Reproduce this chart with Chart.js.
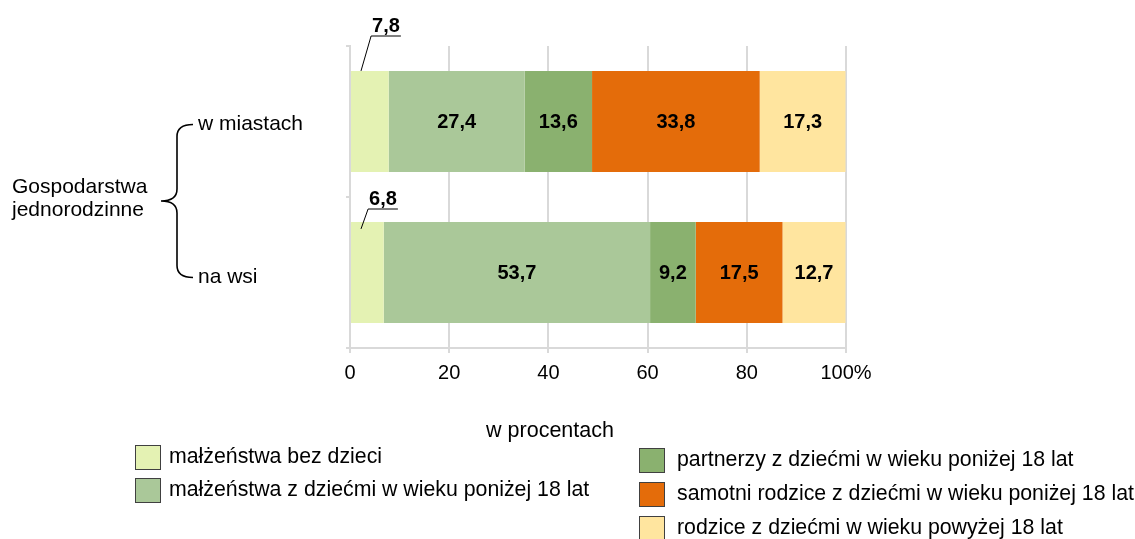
<!DOCTYPE html>
<html>
<head>
<meta charset="utf-8">
<script src="https://cdn.jsdelivr.net/npm/chart.js@4.4.1/dist/chart.umd.min.js"></script>
<style>
  html, body { margin: 0; padding: 0; background: #fff; }
  canvas { display: block; }
</style>
</head>
<body>
<canvas id="households" width="1135" height="539"></canvas>
<script>
const FONT = "'Liberation Sans', Arial, sans-serif";

const categories = ["w miastach", "na wsi"];
const group_label = ["Gospodarstwa", "jednorodzinne"];
const axis_title = "w procentach";

const series_names = [
  "małżeństwa bez dzieci",
  "małżeństwa z dziećmi w wieku poniżej 18 lat",
  "partnerzy z dziećmi w wieku poniżej 18 lat",
  "samotni rodzice z dziećmi w wieku poniżej 18 lat",
  "rodzice z dziećmi w wieku powyżej 18 lat"
];
const no_children = [7.8, 6.8];
const married_kids = [27.4, 53.7];
const partners_kids = [13.6, 9.2];
const single_parents = [33.8, 17.5];
const adult_kids = [17.3, 12.7];

const x_ticks = [0, 20, 40, 60, 80, 100];

const colours = ["#e4f2b3", "#aac899", "#8ab16f", "#e46c0a", "#ffe59f"];
const grid_colour = "#d9d9d9";

const fmt = v => v.toFixed(1).replace(".", ",");

// the narrow first series is labelled above the bar with a leader line
const CALLOUT_SERIES = 0;
const callouts = [
  { tx: 386, ty: 26, lineX: 361, lineDy: 0 },
  { tx: 383, ty: 199, lineX: 361, lineDy: 7 }
];

const barLabels = {
  id: "barLabels",
  afterDatasetsDraw(chart) {
    const ctx = chart.ctx;
    ctx.save();
    ctx.font = "bold 20px " + FONT;
    ctx.fillStyle = "#000";
    ctx.textAlign = "center";
    ctx.textBaseline = "middle";
    chart.data.datasets.forEach((ds, i) => {
      chart.getDatasetMeta(i).data.forEach((bar, j) => {
        const v = ds.data[j];
        const cx = (bar.x + bar.base) / 2;
        if (i !== CALLOUT_SERIES) {
          ctx.fillText(fmt(v), cx, bar.y + 1);
          return;
        }
        const c = callouts[j];
        const txt = fmt(v);
        const w = ctx.measureText(txt).width;
        ctx.fillText(txt, c.tx, c.ty);
        const top = bar.y - bar.height / 2;
        const uy = c.ty + 10;
        ctx.strokeStyle = "#000";
        ctx.lineWidth = 1;
        ctx.beginPath();
        ctx.moveTo(c.tx + w / 2 + 1, uy);
        ctx.lineTo(c.tx - w / 2 - 1, uy);
        ctx.lineTo(c.lineX, top + c.lineDy);
        ctx.stroke();
      });
    });
    ctx.restore();
  }
};

const sideLabels = {
  id: "sideLabels",
  afterDraw(chart) {
    const ctx = chart.ctx;
    const y = chart.scales.y;
    const y0 = y.getPixelForValue(0) + 3;
    const y1 = y.getPixelForValue(1) + 5;
    const mid = (y0 + y1) / 2;
    ctx.save();
    ctx.fillStyle = "#000";
    ctx.font = "21px " + FONT;
    ctx.textBaseline = "middle";
    ctx.textAlign = "left";
    ctx.fillText(categories[0], 198, y0);
    ctx.fillText(categories[1], 198, y1);
    ctx.fillText(group_label[0], 12, mid - 14);
    ctx.fillText(group_label[1], 12, mid + 9);

    // curly brace joining the two rows
    const bx = 177, tip = 161, r = 12;
    ctx.strokeStyle = "#000";
    ctx.lineWidth = 1.6;
    ctx.beginPath();
    ctx.moveTo(bx + 16, y0);
    ctx.quadraticCurveTo(bx, y0, bx, y0 + r);
    ctx.lineTo(bx, mid - r);
    ctx.quadraticCurveTo(bx, mid, tip, mid);
    ctx.quadraticCurveTo(bx, mid, bx, mid + r);
    ctx.lineTo(bx, y1 - r);
    ctx.quadraticCurveTo(bx, y1, bx + 16, y1);
    ctx.stroke();

    ctx.font = "21.5px " + FONT;
    ctx.textAlign = "center";
    ctx.fillText(axis_title, 550, 431);

    // legend in two columns
    const cols = [
      { x: 135, y: 445, gap: 33, items: [0, 1], tx: 169 },
      { x: 639, y: 448, gap: 34, items: [2, 3, 4], tx: 677 }
    ];
    ctx.font = "21.3px " + FONT;
    ctx.textAlign = "left";
    cols.forEach(col => {
      col.items.forEach((k, n) => {
        const sy = col.y + n * col.gap;
        ctx.fillStyle = colours[k];
        ctx.fillRect(col.x, sy, 25, 24);
        ctx.strokeStyle = "#404040";
        ctx.lineWidth = 1;
        ctx.strokeRect(col.x + 0.5, sy + 0.5, 25, 24);
        ctx.fillStyle = "#000";
        ctx.fillText(series_names[k], col.tx, sy + 12);
      });
    });
    ctx.restore();
  }
};

const values = [no_children, married_kids, partners_kids, single_parents, adult_kids];

new Chart(document.getElementById("households"), {
  type: "bar",
  data: {
    labels: categories,
    datasets: values.map((d, i) => ({
      label: series_names[i],
      data: d,
      backgroundColor: colours[i],
      borderWidth: 0,
      barPercentage: 0.67,
      categoryPercentage: 1
    }))
  },
  options: {
    indexAxis: "y",
    responsive: false,
    animation: false,
    layout: { padding: { top: 46, right: 289, left: 0, bottom: 0 } },
    plugins: {
      legend: { display: false },
      tooltip: { enabled: false }
    },
    scales: {
      x: {
        stacked: true,
        min: 0,
        max: 100,
        afterBuildTicks: scale => { scale.ticks = x_ticks.map(v => ({ value: v })); },
        afterFit: scale => { scale.height = 191; },
        grid: { color: grid_colour, lineWidth: 2, tickLength: 5 },
        border: { color: grid_colour, width: 2 },
        ticks: {
          padding: 8,
          color: "#000",
          font: { family: FONT, size: 20 },
          callback: v => v === 100 ? "100%" : v
        }
      },
      y: {
        stacked: true,
        afterFit: scale => { scale.width = 350; },
        grid: { offset: true, drawOnChartArea: false, color: grid_colour, lineWidth: 2, tickLength: 4 },
        border: { color: grid_colour, width: 2 },
        ticks: { display: false }
      }
    }
  },
  plugins: [barLabels, sideLabels]
});
</script>
</body>
</html>
